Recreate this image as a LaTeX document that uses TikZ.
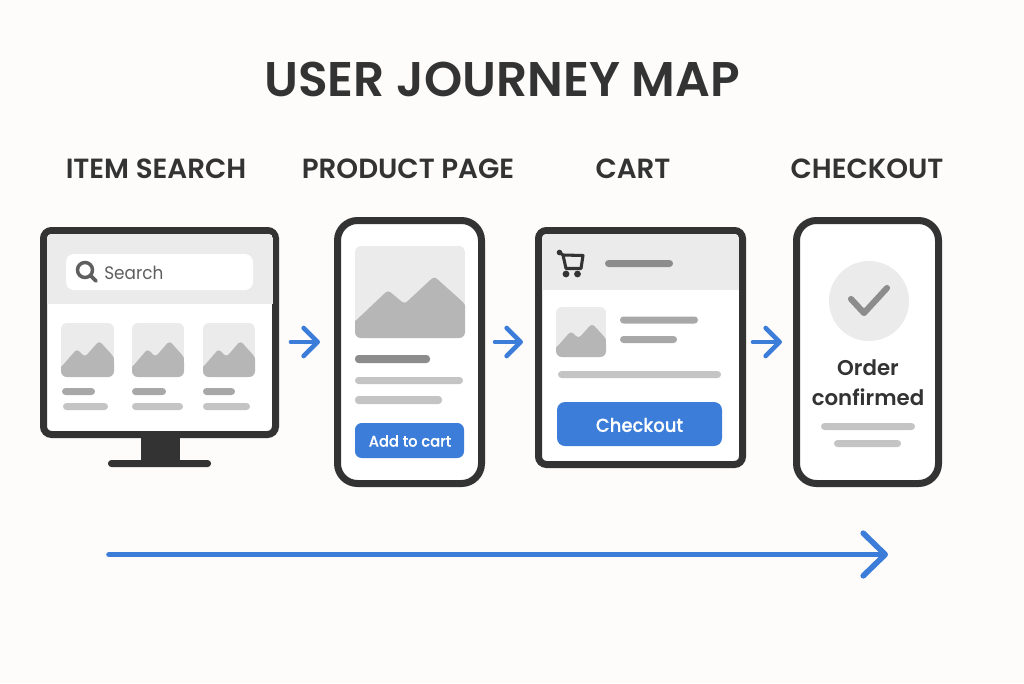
\documentclass[tikz,border=0pt]{standalone}
\usepackage{fontspec}
\setmainfont{Poppins}
\newfontfamily\medfont{Poppins SemiBold}
\newfontfamily\midfont{Poppins Medium}[FakeStretch=.95,FakeBold=.25]
\newfontfamily\softfont{Poppins}[FakeStretch=.93]
\usetikzlibrary{arrows.meta}
\definecolor{bgc}{HTML}{FDFCFB}
\definecolor{ink}{HTML}{333333}
\definecolor{flowblue}{HTML}{3B7DD8}
\definecolor{panelgrey}{HTML}{EBEBEB}
\definecolor{mountgrey}{HTML}{B6B6B6}
\definecolor{bardark}{HTML}{8C8C8C}
\definecolor{barmid}{HTML}{A8A8A8}
\definecolor{barlight}{HTML}{C4C4C4}
\definecolor{softink}{HTML}{5F5F5F}
\tikzset{
  x=.75pt,y=-.75pt,
  framebox/.style={draw=ink,line width=5.25pt,fill=white,inner sep=0pt,outer sep=0pt,anchor=north west},
  flow/.style={draw=flowblue,line width=3.5pt,line cap=round,-{Straight Barb[round,length=10.5pt,width=21pt]}},
  bigflow/.style={draw=flowblue,line width=4.2pt,line cap=round,-{Straight Barb[round,length=16.5pt,width=32pt]}},
  steplabel/.style={text=ink,font=\medfont\fontsize{20.8}{24}\selectfont,inner sep=0pt},
  btn/.style={fill=flowblue,inner sep=0pt,outer sep=0pt,anchor=north west},
  btntext/.style={text=white,inner sep=0pt},
}
\newcommand\pill[5]{\fill[#5,rounded corners=2.6pt] (#1,#2) rectangle (#3,#4);}
\newcommand\mthumb[4]{%
  \begin{scope}
    \clip[rounded corners=4.5pt] (#1,#2) rectangle ++(#3,#4);
    \fill[panelgrey] (#1,#2) rectangle ++(#3,#4);
    \begin{scope}[shift={(#1,#2)},x=#3*.75pt,y=-#4*.75pt]
      \fill[mountgrey,rounded corners=2.5pt] (-.1,1.2) -- (-.1,.88) -- (0,.82) -- (.3,.48) -- (.45,.63) -- (.72,.33) -- (1,.63) -- (1.1,1.2) -- cycle;
    \end{scope}
  \end{scope}}
\begin{document}
\begin{tikzpicture}
\useasboundingbox (0,0) rectangle (1024,683);
\fill[bgc] (0,0) rectangle (1024,683);

\node[text=ink,font=\medfont\fontsize{36.5}{40}\selectfont,inner sep=0pt] (title) at (502,79) {USER JOURNEY MAP};
\node[steplabel] (lab1) at (156,169) {ITEM SEARCH};
\node[steplabel] (lab2) at (408,169) {PRODUCT PAGE};
\node[steplabel] (lab3) at (633,169) {CART};
\node[steplabel] (lab4) at (867,169) {CHECKOUT};

% monitor
\fill[ink] (141,436) rectangle (180,463);
\fill[ink,rounded corners=2.5pt] (108,460) rectangle (211,467);
\node[framebox,rounded corners=6pt,minimum width=174pt,minimum height=153pt] (monitor) at (43.5,230.5) {};
\begin{scope}
  \clip[rounded corners=3pt] (47,234) rectangle (273,431);
  \fill[panelgrey] (47,234) rectangle (273,304);
\end{scope}
\fill[white,rounded corners=6pt] (66,254) rectangle (253,290);
\draw[draw=softink,line width=2.6pt] (85,270) circle (7.5);
\draw[draw=softink,line width=2.8pt,line cap=round] (90.5,275.5) -- (96,281);
\node[text=softink,font=\softfont\fontsize{13.6}{16}\selectfont,anchor=west,inner sep=0pt] (searchtxt) at (104,273) {Search};
\mthumb{61}{323}{53}{54}
\mthumb{132}{323}{52}{54}
\mthumb{203}{323}{52}{54}
\pill{62}{388}{95}{395}{barmid}
\pill{132}{388}{166}{395}{barmid}
\pill{203}{388}{235}{395}{barmid}
\pill{63}{403}{108}{410}{barlight}
\pill{132}{403}{183}{410}{barlight}
\pill{203}{403}{250}{410}{barlight}

% product page
\node[framebox,rounded corners=15pt,minimum width=108pt,minimum height=197.25pt] (product) at (337.5,220.5) {};
\mthumb{355}{246}{110}{92}
\pill{355}{355}{430}{363}{bardark}
\pill{355}{377}{463}{384}{barlight}
\pill{355}{396}{442}{404}{barlight}
\node[btn,rounded corners=5pt,minimum width=81.75pt,minimum height=26.25pt] (addcart) at (355,423) {};
\node[btntext,font=\midfont\fontsize{11.6}{14}\selectfont] (addcarttxt) at (410,441) {Add to cart};

% cart
\node[framebox,rounded corners=6pt,minimum width=153pt,minimum height=175.5pt] (cart) at (538.5,230.5) {};
\begin{scope}
  \clip[rounded corners=3pt] (542,234) rectangle (739,464);
  \fill[panelgrey] (542,234) rectangle (739,290);
\end{scope}
\draw[ink,line width=2.3pt,line join=round,line cap=round] (559.5,252.5) -- (563,255) -- (583,255.5) -- (581,268.5) -- (566,268.5) -- (563,255);
\fill[ink] (559.5,252.5) circle (2.8) (566,274) circle (3.4) (577.5,274) circle (3.4);
\pill{605}{260}{673}{267}{bardark}
\mthumb{556}{307}{50}{50}
\pill{620}{316.5}{698}{323.5}{barmid}
\pill{620}{336}{677}{343}{barmid}
\pill{558}{371}{721}{378}{barlight}
\node[btn,rounded corners=6pt,minimum width=123.75pt,minimum height=33pt] (checkbtn) at (557,402) {};
\node[btntext,font=\midfont\fontsize{14.2}{18}\selectfont] (checktxt) at (639.5,425) {Checkout};

% checkout
\node[framebox,rounded corners=15pt,minimum width=106.5pt,minimum height=197.25pt] (done) at (796.5,220.5) {};
\fill[panelgrey] (869,301) circle (40);
\draw[bardark,line width=4.6pt,line cap=round,line join=round] (851,299) -- (864,313) -- (887,288);
\node[text=ink,font=\medfont\fontsize{16}{22.5}\selectfont,align=center,inner sep=0pt] (ordertxt) at (868,383) {Order\\confirmed};
\pill{821}{423}{915}{430}{barlight}
\pill{834}{440}{901}{447}{barlight}

% connectors
\coordinate (a1s) at (291,342); \coordinate (a1e) at (320,342);
\coordinate (a2s) at (495,342); \coordinate (a2e) at (523,342);
\coordinate (a3s) at (753,342); \coordinate (a3e) at (782,342);
\coordinate (js) at (109,554.5); \coordinate (je) at (888,554.5);
\draw[flow] (a1s) -- (a1e);
\draw[flow] (a2s) -- (a2e);
\draw[flow] (a3s) -- (a3e);
\draw[bigflow] (js) -- (je);
\end{tikzpicture}
\end{document}
